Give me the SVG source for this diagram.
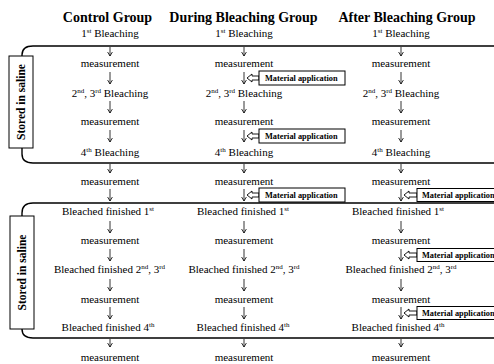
<svg xmlns="http://www.w3.org/2000/svg" width="494" height="364" viewBox="0 0 494 364">
<style>
text{font-family:"Liberation Serif","Times New Roman",serif;fill:#000}
.t{font-size:14px;font-weight:bold;text-anchor:middle}
.n{font-size:11px;text-anchor:middle}
.sup{font-size:7px}
.m{font-size:8.3px;font-weight:bold}
.s{font-size:11.5px;font-weight:bold;text-anchor:middle}
.br{fill:none;stroke:#000;stroke-width:1.4}
.box{fill:#fff;stroke:#000;stroke-width:1}
.ar{fill:none;stroke:#000;stroke-width:0.8;marker-end:url(#ah)}
.ha{fill:#fff;stroke:#000;stroke-width:0.9}
</style>
<defs>
<marker id="ah" viewBox="0 0 6 6" refX="6" refY="3" markerWidth="6" markerHeight="6" markerUnits="userSpaceOnUse" orient="auto">
<path d="M2,0.6 L6,3 L2,5.4" fill="none" stroke="#000" stroke-width="0.8"/>
</marker>
</defs>
<rect width="494" height="364" fill="#fff"/>

<g id="brackets">
<path class="br" d="M22,57 V55 Q22,46 33,46 H494"/>
<path class="br" d="M22,148 V154 Q22,163 33,163 H494"/>
<path class="br" d="M22,216 V213 Q22,203 33,203 H494"/>
<path class="br" d="M22,329 V329 Q22,338 33,338 H494"/>
</g>

<g id="storage1">
<rect class="box" x="9" y="56" width="24" height="92"/>
<text class="s" transform="translate(25,102) rotate(-90)">Stored in saline</text>
</g>
<g id="storage2">
<rect class="box" x="10" y="216" width="24" height="113"/>
<text class="s" transform="translate(26,272.5) rotate(-90)">Stored in saline</text>
</g>

<g id="titles">
<text class="t" x="107.5" y="22">Control Group</text>
<text class="t" x="243.5" y="22">During Bleaching Group</text>
<text class="t" x="407" y="22">After Bleaching Group</text>
</g>

<g id="connectors">
<path class="ar" d="M110,47 V56"/><path class="ar" d="M244,47 V56"/><path class="ar" d="M401,47 V56"/>
<path class="ar" d="M110,72 V84"/><path class="ar" d="M244,72 V84"/><path class="ar" d="M401,72 V84"/>
<path class="ar" d="M110,101 V113"/><path class="ar" d="M244,101 V113"/><path class="ar" d="M401,101 V113"/>
<path class="ar" d="M110,130 V142"/><path class="ar" d="M244,130 V142"/><path class="ar" d="M401,130 V142"/>
<path class="ar" d="M110,164 V173"/><path class="ar" d="M244,164 V173"/><path class="ar" d="M401,164 V173"/>
<path class="ar" d="M110,189 V201"/><path class="ar" d="M244,189 V201"/><path class="ar" d="M401,189 V201"/>
<path class="ar" d="M110,221 V233"/><path class="ar" d="M244,221 V233"/><path class="ar" d="M401,221 V233"/>
<path class="ar" d="M110,249 V261"/><path class="ar" d="M244,249 V261"/><path class="ar" d="M401,249 V261"/>
<path class="ar" d="M110,279 V291"/><path class="ar" d="M244,279 V291"/><path class="ar" d="M401,279 V291"/>
<path class="ar" d="M110,307 V319"/><path class="ar" d="M244,307 V319"/><path class="ar" d="M401,307 V319"/>
<path class="ar" d="M110,339 V347"/><path class="ar" d="M244,339 V347"/><path class="ar" d="M401,339 V347"/>
<polygon class="ha" points="247,78 252,74 252,76 259,76 259,80 252,80 252,82"/>
<polygon class="ha" points="247,136 252,132 252,134 259,134 259,138 252,138 252,140"/>
<polygon class="ha" points="247,195 252,191 252,193 259,193 259,197 252,197 252,199"/>
<polygon class="ha" points="404,195 409,191 409,193 417,193 417,197 409,197 409,199"/>
<polygon class="ha" points="404,255 409,251 409,253 417,253 417,257 409,257 409,259"/>
<polygon class="ha" points="404,313 409,309 409,311 417,311 417,315 409,315 409,317"/>
</g>

<g id="material1"><rect class="box" x="259" y="71" width="86" height="14"/><text class="m" x="265" y="81">Material application</text></g>
<g id="material2"><rect class="box" x="259" y="129" width="86" height="14"/><text class="m" x="265" y="139">Material application</text></g>
<g id="material3"><rect class="box" x="259" y="188" width="86" height="14"/><text class="m" x="265" y="198">Material application</text></g>
<g id="material4"><rect class="box" x="417" y="188.5" width="90" height="13"/><text class="m" x="422" y="198">Material application</text></g>
<g id="material5"><rect class="box" x="417" y="248.5" width="90" height="13"/><text class="m" x="422" y="258">Material application</text></g>
<g id="material6"><rect class="box" x="417" y="306.5" width="90" height="13"/><text class="m" x="422" y="316">Material application</text></g>

<g id="control">
<text class="n" x="110" y="36.5">1<tspan class="sup" dy="-4">st</tspan><tspan dy="4"> Bleaching</tspan></text>
<text class="n" x="110" y="67">measurement</text>
<text class="n" x="110" y="97">2<tspan class="sup" dy="-4">nd</tspan><tspan dy="4">, 3</tspan><tspan class="sup" dy="-4">rd</tspan><tspan dy="4"> Bleaching</tspan></text>
<text class="n" x="110" y="124.5">measurement</text>
<text class="n" x="110" y="156">4<tspan class="sup" dy="-4">th</tspan><tspan dy="4"> Bleaching</tspan></text>
<text class="n" x="110" y="185">measurement</text>
<text class="n" x="108" y="215">Bleached finished 1<tspan class="sup" dy="-4">st</tspan></text>
<text class="n" x="110" y="244">measurement</text>
<text class="n" x="109.5" y="273">Bleached finished 2<tspan class="sup" dy="-4">nd</tspan><tspan dy="4">, 3</tspan><tspan class="sup" dy="-4">rd</tspan></text>
<text class="n" x="110" y="302.5">measurement</text>
<text class="n" x="108" y="331">Bleached finished 4<tspan class="sup" dy="-4">th</tspan></text>
<text class="n" x="110" y="360.5">measurement</text>
</g>

<g id="during">
<text class="n" x="244" y="36.5">1<tspan class="sup" dy="-4">st</tspan><tspan dy="4"> Bleaching</tspan></text>
<text class="n" x="244" y="67">measurement</text>
<text class="n" x="244" y="97">2<tspan class="sup" dy="-4">nd</tspan><tspan dy="4">, 3</tspan><tspan class="sup" dy="-4">rd</tspan><tspan dy="4"> Bleaching</tspan></text>
<text class="n" x="244" y="124.5">measurement</text>
<text class="n" x="244" y="156">4<tspan class="sup" dy="-4">th</tspan><tspan dy="4"> Bleaching</tspan></text>
<text class="n" x="244" y="185">measurement</text>
<text class="n" x="243" y="215">Bleached finished 1<tspan class="sup" dy="-4">st</tspan></text>
<text class="n" x="244" y="244">measurement</text>
<text class="n" x="244" y="273">Bleached finished 2<tspan class="sup" dy="-4">nd</tspan><tspan dy="4">, 3</tspan><tspan class="sup" dy="-4">rd</tspan></text>
<text class="n" x="244" y="302.5">measurement</text>
<text class="n" x="243" y="331">Bleached finished 4<tspan class="sup" dy="-4">th</tspan></text>
<text class="n" x="244" y="360.5">measurement</text>
</g>

<g id="after">
<text class="n" x="401" y="36.5">1<tspan class="sup" dy="-4">st</tspan><tspan dy="4"> Bleaching</tspan></text>
<text class="n" x="401" y="67">measurement</text>
<text class="n" x="401" y="97">2<tspan class="sup" dy="-4">nd</tspan><tspan dy="4">, 3</tspan><tspan class="sup" dy="-4">rd</tspan><tspan dy="4"> Bleaching</tspan></text>
<text class="n" x="401" y="124.5">measurement</text>
<text class="n" x="401" y="156">4<tspan class="sup" dy="-4">th</tspan><tspan dy="4"> Bleaching</tspan></text>
<text class="n" x="401" y="185">measurement</text>
<text class="n" x="398" y="215">Bleached finished 1<tspan class="sup" dy="-4">st</tspan></text>
<text class="n" x="401" y="244">measurement</text>
<text class="n" x="401" y="273">Bleached finished 2<tspan class="sup" dy="-4">nd</tspan><tspan dy="4">, 3</tspan><tspan class="sup" dy="-4">rd</tspan></text>
<text class="n" x="401" y="302.5">measurement</text>
<text class="n" x="398" y="331">Bleached finished 4<tspan class="sup" dy="-4">th</tspan></text>
<text class="n" x="401" y="360.5">measurement</text>
</g>
</svg>
